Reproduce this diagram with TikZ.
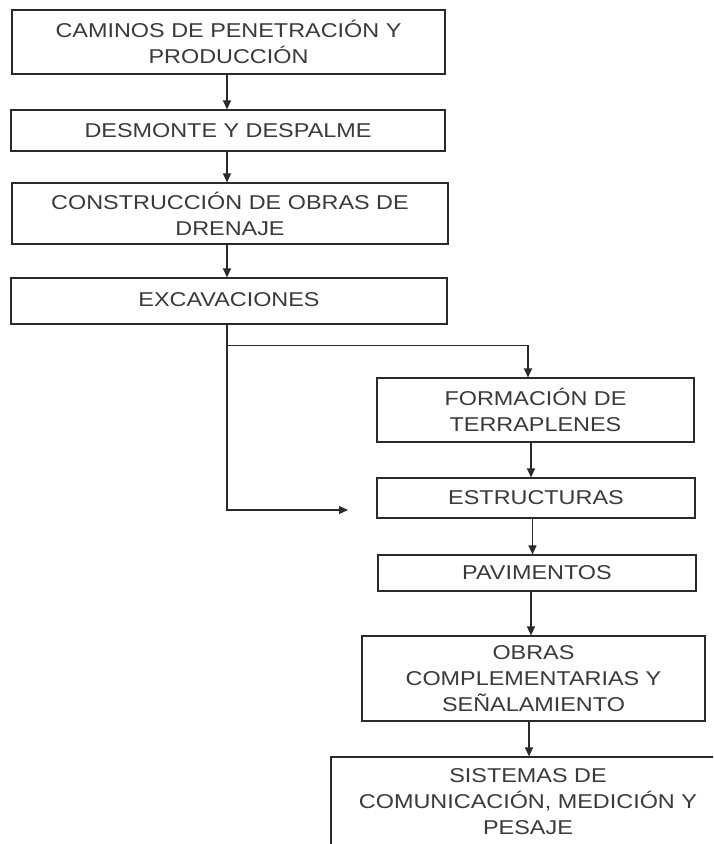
\documentclass[tikz,border=0pt]{standalone}
\usepackage{fontspec}
\setmainfont{Liberation Sans}[FakeStretch=1.17]
\usetikzlibrary{arrows.meta}
\definecolor{txt}{HTML}{3A3A3A}
\definecolor{ln}{HTML}{2A2A2A}
\begin{document}
\begin{tikzpicture}[x=1pt,y=-1pt,
  box/.style={draw=ln,line width=1.2pt,rectangle,align=center,inner sep=0pt,
    text=txt,font=\fontsize{20}{26}\selectfont},
  arr/.style={draw=ln,line width=1.2pt,-{Triangle[length=9pt,width=8pt]}}]
\clip (0,0) rectangle (713,844);
\fill[white] (0,0) rectangle (713,844);
\node[box,minimum width=433pt,minimum height=64pt] (b1) at (228.5,42) {CAMINOS DE PENETRACIÓN Y\\PRODUCCIÓN};
\node[box,minimum width=434pt,minimum height=41pt] (b2) at (228,130.5) {DESMONTE Y DESPALME};
\node[box,minimum width=436pt,minimum height=61pt] (b3) at (230,213.5) {CONSTRUCCIÓN DE OBRAS DE\\DRENAJE};
\node[box,minimum width=436pt,minimum height=46pt] (b4) at (229,301) {\raisebox{3pt}{EXCAVACIONES}};
\node[box,minimum width=317pt,minimum height=64pt] (b5) at (535.5,410) {FORMACIÓN DE\\TERRAPLENES};
\node[box,minimum width=318pt,minimum height=40pt] (b6) at (536,498) {ESTRUCTURAS};
\node[box,minimum width=318pt,minimum height=36pt] (b7) at (537,573) {PAVIMENTOS};
\node[box,minimum width=343pt,minimum height=85pt] (b8) at (533.5,678.5) {OBRAS\\COMPLEMENTARIAS Y\\SEÑALAMIENTO};
\node[box,minimum width=394pt,minimum height=90pt] (b9) at (528,802) {SISTEMAS DE\\COMUNICACIÓN, MEDICIÓN Y\\PESAJE};
\coordinate (e) at (348,510);
\draw[arr] ([xshift=-1.5pt]b1.south) -- ([xshift=-1.5pt]b1.south |- b2.north);
\draw[arr] ([xshift=-1pt]b2.south) -- ([xshift=-1pt]b2.south |- b3.north);
\draw[arr] ([xshift=-3pt]b3.south) -- ([xshift=-3pt]b3.south |- b4.north);
\draw[arr] ([xshift=-2pt]b4.south) -- ++(0,21) -| ([xshift=-7.5pt]b5.north);
\draw[arr] ([xshift=-2pt]b4.south) |- (e);
\draw[arr] ([xshift=-4.5pt]b5.south) -- ([xshift=-4.5pt]b5.south |- b6.north);
\draw[arr] ([xshift=-3.5pt]b6.south) -- ([xshift=-3.5pt]b6.south |- b7.north);
\draw[arr] ([xshift=-6pt]b7.south) -- ([xshift=-6pt]b7.south |- b8.north);
\draw[arr] ([xshift=-4.5pt]b8.south) -- ([xshift=-4.5pt]b8.south |- b9.north);
\end{tikzpicture}
\end{document}
